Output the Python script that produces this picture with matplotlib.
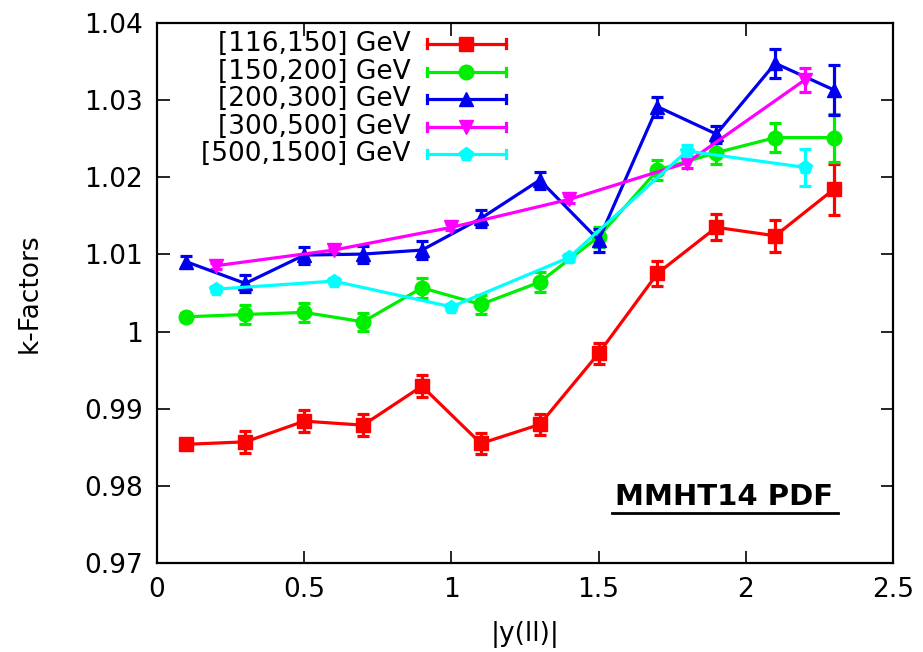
import matplotlib
matplotlib.use("Agg")
import matplotlib.pyplot as plt
from matplotlib.lines import Line2D

plt.rcParams['font.family'] = ['DejaVu Sans']

x_a = [0.1, 0.3, 0.5, 0.7, 0.9, 1.1, 1.3, 1.5, 1.7, 1.9, 2.1, 2.3]
x_b = [0.2, 0.6, 1.0, 1.4, 1.8, 2.2]

red_y = [0.98541, 0.98573, 0.98841, 0.98789, 0.99294, 0.98552, 0.98798, 0.99718, 1.00754, 1.0135, 1.01241, 1.01846]
red_e = [0.0006, 0.0014, 0.0014, 0.0014, 0.0014, 0.0014, 0.0014, 0.0014, 0.0016, 0.0017, 0.0021, 0.0033]

green_y = [1.00192, 1.00222, 1.00249, 1.00127, 1.00567, 1.00352, 1.00641, 1.01228, 1.02092, 1.02317, 1.02512, 1.02512]
green_e = [0.0005, 0.0012, 0.0012, 0.0012, 0.0013, 0.0012, 0.0013, 0.0013, 0.0013, 0.0015, 0.0019, 0.0031]

blue_y = [1.00904, 1.00624, 1.00991, 1.01004, 1.01056, 1.01466, 1.01962, 1.01185, 1.02912, 1.02558, 1.03474, 1.03128]
blue_e = [0.0007, 0.0011, 0.0011, 0.0011, 0.0012, 0.0011, 0.0011, 0.0015, 0.0013, 0.0011, 0.0019, 0.0032]

mag_y = [1.00853, 1.01056, 1.0135, 1.01712, 1.02187, 1.03258]
mag_e = [0.0004, 0.0004, 0.0004, 0.0005, 0.0007, 0.0015]

cyan_y = [1.0055, 1.00654, 1.00321, 1.00961, 1.02338, 1.02127]
cyan_e = [0.0004, 0.0004, 0.0004, 0.0005, 0.0008, 0.0024]

labels = ["[116,150] GeV", "[150,200] GeV", "[200,300] GeV", "[300,500] GeV", "[500,1500] GeV"]
colors = ["#ff0000", "#00ee00", "#0000ee", "#ff00ff", "#00ffff"]
markers = ["s", "o", "^", "v", "p"]
msizes = [10.5, 10.5, 9.5, 9.5, 10.5]

series = [(x_a, red_y, red_e), (x_a, green_y, green_e), (x_a, blue_y, blue_e),
          (x_b, mag_y, mag_e), (x_b, cyan_y, cyan_e)]

fig = plt.figure(figsize=(9.23, 6.52), dpi=100)
ax = fig.add_axes([0.1701, 0.136, 0.7974, 0.8292])

for (xs, ys, es), c, m, ms in zip(series, colors, markers, msizes):
    ax.errorbar(xs, ys, yerr=es, color=c, marker=m, markersize=ms, lw=2.3,
                elinewidth=2.3, capsize=4, capthick=2.3)

ax.set_xlim(0, 2.5)
ax.set_ylim(0.97, 1.04)
ax.set_xticks([0, 0.5, 1, 1.5, 2, 2.5])
ax.set_xticklabels(["0", "0.5", "1", "1.5", "2", "2.5"])
ax.set_yticks([0.97, 0.98, 0.99, 1.0, 1.01, 1.02, 1.03, 1.04])
ax.set_yticklabels(["0.97", "0.98", "0.99", "1", "1.01", "1.02", "1.03", "1.04"])
ax.tick_params(direction='in', length=9, width=1.2, top=True, right=True,
               labelsize=19, pad=10)
for s in ax.spines.values():
    s.set_linewidth(1.6)

ax.set_xlabel("|y(ll)|", fontsize=19, labelpad=13)
ax.set_ylabel("k-Factors", fontsize=19, labelpad=30)

# gnuplot-style key
rows = [0.961, 0.909, 0.859, 0.807, 0.757]
for lab, c, m, ms, yr in zip(labels, colors, markers, msizes, rows):
    ax.text(0.344, yr, lab, transform=ax.transAxes, ha='right', va='center', fontsize=19)
    ax.add_line(Line2D([0.367, 0.474], [yr, yr], transform=ax.transAxes, color=c, lw=2.3))
    ax.add_line(Line2D([0.4205], [yr], transform=ax.transAxes, color=c, marker=m,
                       markersize=ms, lw=0))
    for xe in (0.367, 0.474):
        ax.add_line(Line2D([xe, xe], [yr - 0.008, yr + 0.008], transform=ax.transAxes,
                           color=c, lw=2.3))

ax.text(0.771, 0.123, "MMHT14 PDF", transform=ax.transAxes,
        ha='center', va='center', fontsize=21, fontweight='bold')
ax.add_line(Line2D([0.618, 0.925], [0.093, 0.093], transform=ax.transAxes,
                   color='black', lw=2.0))

fig.savefig("out.png", dpi=100)
